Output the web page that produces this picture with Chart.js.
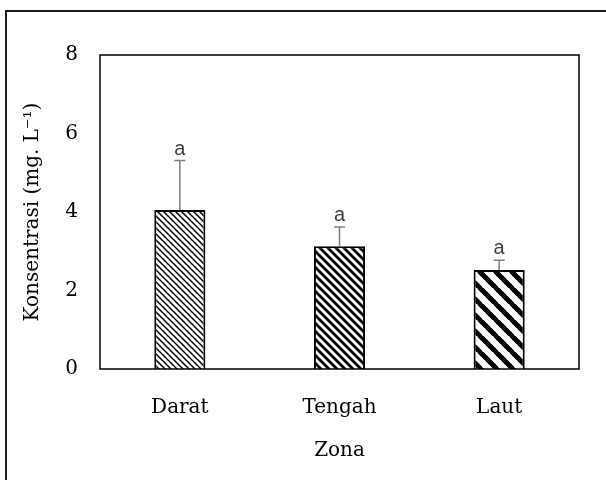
<!DOCTYPE html>
<html>
<head>
<meta charset="utf-8">
<script src="https://cdn.jsdelivr.net/npm/chart.js@4"></script>
<style>
  html, body { margin: 0; padding: 0; background: #ffffff; }
  #wrap { width: 606px; height: 480px; position: relative; }
</style>
</head>
<body>
<div id="wrap"><canvas id="chart" width="606" height="480"></canvas></div>
<script>
// Chart data
const zones = ['Darat', 'Tengah', 'Laut'];
const meanValues = [4.05, 3.13, 2.52];
const errorValues = [1.26, 0.49, 0.25];
const letterLabels = ['a', 'a', 'a'];
const yMin = 0;
const yMax = 8;
const yStep = 2;

// Build a diagonal hatch pattern ("\" direction)
function makeHatch(period, lineWidth) {
    const c = document.createElement('canvas');
    c.width = period;
    c.height = period;
    const g = c.getContext('2d');
    g.fillStyle = '#ffffff';
    g.fillRect(0, 0, period, period);
    g.strokeStyle = '#000000';
    g.lineWidth = lineWidth;
    g.beginPath();
    for (let k = -1; k <= 1; k++) {
        g.moveTo(k * period - 1, -1);
        g.lineTo(k * period + period + 1, period + 1);
    }
    g.stroke();
    return g.createPattern(c, 'repeat');
}

const ctx = document.getElementById('chart').getContext('2d');
const patterns = [makeHatch(6, 1.5), makeHatch(8, 2.8), makeHatch(16, 5)];

// Outer frame and plot box
const framePlugin = {
    id: 'frame',
    afterDraw(chart) {
        const c = chart.ctx;
        const a = chart.chartArea;
        c.save();
        c.strokeStyle = '#000000';
        c.lineWidth = 1.5;
        c.strokeRect(a.left, a.top, a.right - a.left, a.bottom - a.top);
        c.strokeStyle = '#1a1a1a';
        c.lineWidth = 2;
        c.beginPath();
        c.moveTo(6, 480);
        c.lineTo(6, 11);
        c.lineTo(606, 11);
        c.stroke();
        c.restore();
    }
};

// Error bars (upper only) with letter labels
const errorPlugin = {
    id: 'errorBars',
    afterDatasetsDraw(chart) {
        const c = chart.ctx;
        const x = chart.scales.x;
        const y = chart.scales.y;
        c.save();
        meanValues.forEach((v, i) => {
            const px = x.getPixelForValue(i);
            const y0 = y.getPixelForValue(v);
            const y1 = y.getPixelForValue(v + errorValues[i]);
            c.strokeStyle = '#7f7f7f';
            c.lineWidth = 1.5;
            c.beginPath();
            c.moveTo(px, y0);
            c.lineTo(px, y1);
            c.moveTo(px - 5.5, y1);
            c.lineTo(px + 5.5, y1);
            c.stroke();
            c.fillStyle = '#404040';
            c.font = '20px "Liberation Sans", Arial, sans-serif';
            c.textAlign = 'center';
            c.textBaseline = 'alphabetic';
            c.fillText(letterLabels[i], px, y1 - 6);
        });
        c.restore();
    }
};

const serif = '"DejaVu Serif", serif';

new Chart(ctx, {
    type: 'bar',
    data: {
        labels: zones,
        datasets: [{
            data: meanValues,
            backgroundColor: patterns,
            borderColor: '#000000',
            borderWidth: 2,
            barPercentage: 0.32,
            categoryPercentage: 1.0
        }]
    },
    options: {
        responsive: false,
        animation: false,
        layout: {
            padding: { top: 55, right: 27, left: 0, bottom: 0 }
        },
        plugins: {
            legend: { display: false },
            tooltip: { enabled: false }
        },
        scales: {
            x: {
                grid: { display: false },
                border: { display: false },
                ticks: {
                    color: '#000000',
                    font: { family: serif, size: 20 },
                    padding: 19
                },
                title: {
                    display: true,
                    text: 'Zona',
                    color: '#000000',
                    font: { family: serif, size: 20 },
                    padding: { top: 0, bottom: 17 }
                },
                afterFit(scale) { scale.height = 111; }
            },
            y: {
                min: yMin,
                max: yMax,
                grid: { display: false },
                border: { display: false },
                ticks: {
                    stepSize: yStep,
                    color: '#000000',
                    font: { family: serif, size: 20 },
                    padding: 14
                },
                title: {
                    display: true,
                    text: 'Konsentrasi (mg. L\u207B\u00B9)',
                    color: '#000000',
                    font: { family: serif, size: 20 },
                    padding: { top: 21, bottom: 0 }
                },
                afterFit(scale) { scale.width = 100; }
            }
        }
    },
    plugins: [framePlugin, errorPlugin]
});
</script>
</body>
</html>
